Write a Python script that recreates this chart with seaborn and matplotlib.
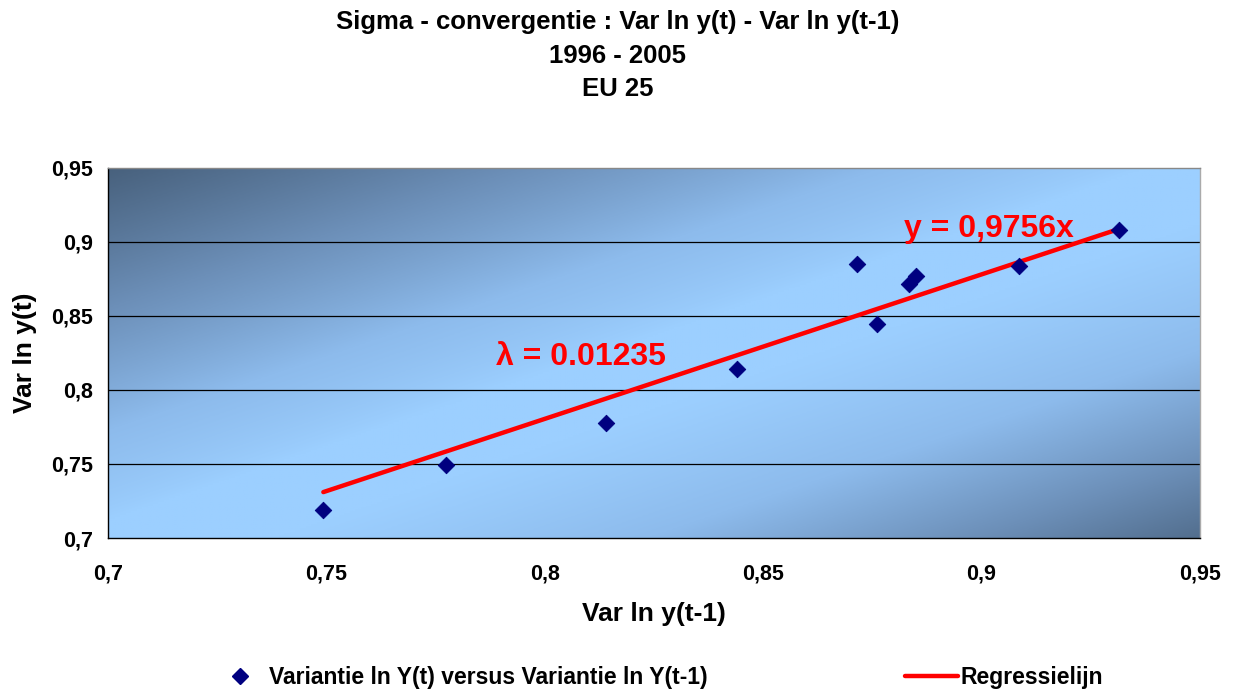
import numpy as np
import pandas as pd
import seaborn as sns
import matplotlib.pyplot as plt
from matplotlib.colors import LinearSegmentedColormap
from matplotlib.lines import Line2D

# data
var_prev = [0.7493, 0.7773, 0.8140, 0.8440, 0.8716, 0.8760, 0.8833, 0.8850, 0.9085, 0.9314]
var_curr = [0.7190, 0.7495, 0.7780, 0.8145, 0.8850, 0.8443, 0.8714, 0.8768, 0.8836, 0.9080]
slope = 0.9756
lam_text = "λ = 0.01235"
eq_text = "y = 0,9756x"
x_ticks = [0.7, 0.75, 0.8, 0.85, 0.9, 0.95]
y_ticks = [0.7, 0.75, 0.8, 0.85, 0.9, 0.95]

df = pd.DataFrame({"prev": var_prev, "curr": var_curr})
x_fit = np.array([df["prev"].min(), df["prev"].max()])
fit = pd.DataFrame({"prev": x_fit, "curr": slope * x_fit})

sns.set_style("white")
plt.rcParams['font.family'] = ['Liberation Sans', 'DejaVu Sans']
plt.rcParams['font.weight'] = 'bold'
plt.rcParams['text.color'] = 'black'
plt.rcParams['axes.labelcolor'] = 'black'

fig = plt.figure(figsize=(12.35, 6.91), dpi=100)
ax = fig.add_axes([0.0875, 0.2214, 0.884, 0.5356])

# diagonal gradient background: dark corners, light band through the middle
gx, gy = np.meshgrid(np.linspace(0, 1, 400), np.linspace(1, 0, 200))
d = gx - gy
shade = np.where(d < 0, np.clip((-d - 0.05) / 0.95, 0, 1) ** 0.8,
                 np.clip((d - 0.15) / 0.85, 0, 1) ** 1.1 * 0.9)
cmap = LinearSegmentedColormap.from_list("bg", ["#9ccfff", "#8dbbec", "#6c8fb8", "#48617d"])
ax.imshow(shade, cmap=cmap, vmin=0, vmax=1, extent=[0.7, 0.95, 0.7, 0.95],
          aspect='auto', zorder=0, interpolation='bilinear')

for yv in y_ticks[1:-1]:
    ax.axhline(yv, color='black', lw=0.9, zorder=1)

sns.lineplot(data=fit, x="prev", y="curr", color='#ff0000', lw=3.2, ax=ax, zorder=2)
sns.scatterplot(data=df, x="prev", y="curr", marker='D', s=70, color='#000080',
                edgecolor='#000080', ax=ax, zorder=3)

ax.set_xlim(0.7, 0.95)
ax.set_ylim(0.7, 0.95)
ax.set_xticks(x_ticks)
ax.set_yticks(y_ticks)
ax.set_xticklabels([f"{t:g}".replace('.', ',') for t in x_ticks], fontsize=15.5, fontweight='bold')
ax.set_yticklabels([f"{t:g}".replace('.', ',') for t in y_ticks], fontsize=15.5, fontweight='bold')
ax.tick_params(axis='x', direction='in', length=6, pad=18, colors='black')
ax.tick_params(axis='y', direction='in', length=5, pad=11, colors='black')
for s in ax.spines.values():
    s.set_color('black')
    s.set_linewidth(1.0)
ax.spines['top'].set_color('#888888')
ax.spines['right'].set_color('#aaaaaa')

ax.set_xlabel("Var ln y(t-1)", fontsize=19, fontweight='bold', labelpad=13)
ax.set_ylabel("Var ln y(t)", fontsize=19, fontweight='bold', labelpad=10)

ax.text(0.8083, 0.8226, lam_text, color='#ff0000', fontsize=23, fontweight='bold',
        ha='center', va='center')
ax.text(0.9018, 0.9085, eq_text, color='#ff0000', fontsize=23, fontweight='bold',
        ha='center', va='center')

fig.suptitle("Sigma - convergentie : Var ln y(t) - Var ln y(t-1)\n1996 - 2005\nEU 25",
             fontsize=18.5, fontweight='bold', y=0.985, linespacing=1.5)

handles = [Line2D([], [], marker='D', ls='none', color='#000080', markersize=8),
           Line2D([], [], color='#ff0000', lw=3.2)]
fig.legend(handles, ["Variantie ln Y(t) versus Variantie ln Y(t-1)", "Regressielijn"],
           loc='center', bbox_to_anchor=(0.533, 0.0195), ncol=2, frameon=False,
           fontsize=16.5, handlelength=2.3, handletextpad=0.12, columnspacing=8.6)

fig.savefig("out.png", dpi=100)
